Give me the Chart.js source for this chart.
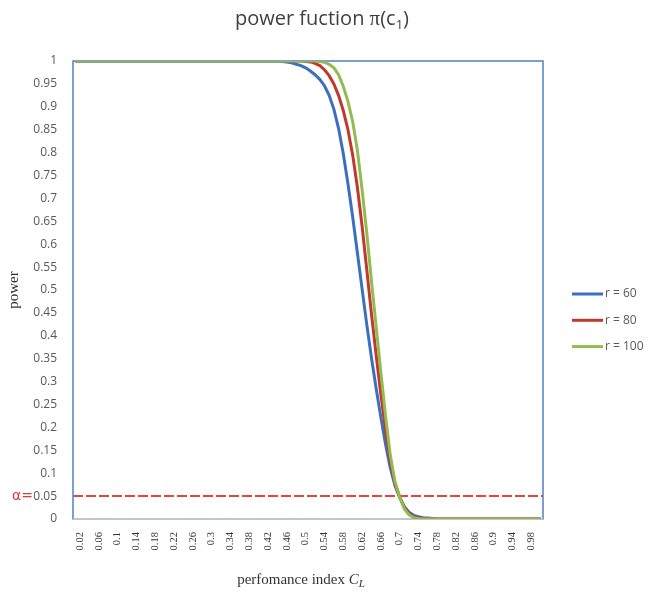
<!DOCTYPE html>
<html>
<head>
<meta charset="utf-8">
<script src="https://cdn.jsdelivr.net/npm/chart.js@4.4.0/dist/chart.umd.min.js"></script>
<style>
  html, body { margin: 0; padding: 0; background: #fff; }
</style>
</head>
<body>
<canvas id="powerChart" width="648" height="592"></canvas>
<script>
// performance index C_L (category axis)
const indexValues = [
  0.01, 0.02, 0.03, 0.04, 0.05, 0.06, 0.07, 0.08, 0.09, 0.1,
  0.11, 0.12, 0.13, 0.14, 0.15, 0.16, 0.17, 0.18, 0.19, 0.2,
  0.21, 0.22, 0.23, 0.24, 0.25, 0.26, 0.27, 0.28, 0.29, 0.3,
  0.31, 0.32, 0.33, 0.34, 0.35, 0.36, 0.37, 0.38, 0.39, 0.4,
  0.41, 0.42, 0.43, 0.44, 0.45, 0.46, 0.47, 0.48, 0.49, 0.5,
  0.51, 0.52, 0.53, 0.54, 0.55, 0.56, 0.57, 0.58, 0.59, 0.6,
  0.61, 0.62, 0.63, 0.64, 0.65, 0.66, 0.67, 0.68, 0.69, 0.7,
  0.71, 0.72, 0.73, 0.74, 0.75, 0.76, 0.77, 0.78, 0.79, 0.8,
  0.81, 0.82, 0.83, 0.84, 0.85, 0.86, 0.87, 0.88, 0.89, 0.9,
  0.91, 0.92, 0.93, 0.94, 0.95, 0.96, 0.97, 0.98, 0.99, 1
];

// power for r = 60
const powerR60 = [
  1, 1, 1, 1, 1, 1, 1, 1, 1, 1,
  1, 1, 1, 1, 1, 1, 1, 1, 1, 1,
  1, 1, 1, 1, 1, 1, 1, 1, 1, 1,
  1, 1, 1, 1, 1, 1, 1, 1, 1, 1,
  1, 1, 1, 1, 0.999, 0.998, 0.996, 0.993, 0.99, 0.985,
  0.978, 0.97, 0.96, 0.946, 0.925, 0.895, 0.853, 0.798, 0.732, 0.66,
  0.582, 0.503, 0.425, 0.352, 0.285, 0.222, 0.163, 0.112, 0.073, 0.047,
  0.027, 0.015, 0.008, 0.005, 0.003, 0.002, 0.001, 0, 0, 0,
  0, 0, 0, 0, 0, 0, 0, 0, 0, 0,
  0, 0, 0, 0, 0, 0, 0, 0, 0, 0
];

// power for r = 80
const powerR80 = [
  1, 1, 1, 1, 1, 1, 1, 1, 1, 1,
  1, 1, 1, 1, 1, 1, 1, 1, 1, 1,
  1, 1, 1, 1, 1, 1, 1, 1, 1, 1,
  1, 1, 1, 1, 1, 1, 1, 1, 1, 1,
  1, 1, 1, 1, 1, 1, 1, 1, 1, 0.999,
  0.998, 0.995, 0.99, 0.981, 0.968, 0.95, 0.925, 0.892, 0.85, 0.795,
  0.725, 0.64, 0.545, 0.448, 0.358, 0.272, 0.193, 0.126, 0.078, 0.048,
  0.025, 0.011, 0.005, 0.002, 0.001, 0, 0, 0, 0, 0,
  0, 0, 0, 0, 0, 0, 0, 0, 0, 0,
  0, 0, 0, 0, 0, 0, 0, 0, 0, 0
];

// power for r = 100
const powerR100 = [
  1, 1, 1, 1, 1, 1, 1, 1, 1, 1,
  1, 1, 1, 1, 1, 1, 1, 1, 1, 1,
  1, 1, 1, 1, 1, 1, 1, 1, 1, 1,
  1, 1, 1, 1, 1, 1, 1, 1, 1, 1,
  1, 1, 1, 1, 1, 1, 1, 1, 1, 1,
  1, 1, 0.999, 0.997, 0.993, 0.985, 0.97, 0.945, 0.912, 0.868,
  0.806, 0.72, 0.625, 0.52, 0.42, 0.32, 0.225, 0.14, 0.082, 0.048,
  0.022, 0.009, 0.003, 0.001, 0, 0, 0, 0, 0, 0,
  0, 0, 0, 0, 0, 0, 0, 0, 0, 0,
  0, 0, 0, 0, 0, 0, 0, 0, 0, 0
];

const seriesNames = ['r = 60', 'r = 80', 'r = 100'];
const seriesColors = ['#3d6fc1', '#c0392f', '#92bc4f'];
const alpha = 0.05;

const decorations = {
  id: 'decorations',
  beforeDatasetsDraw(chart) {
    const { ctx, chartArea: a, scales: { y } } = chart;
    ctx.save();
    ctx.strokeStyle = '#4f80c1';
    ctx.lineWidth = 1.5;
    ctx.strokeRect(a.left, a.top, a.width, a.height);
    ctx.strokeStyle = '#d4d4d4';
    ctx.beginPath();
    ctx.moveTo(a.left, a.bottom);
    ctx.lineTo(a.right, a.bottom);
    ctx.stroke();
    // alpha level
    const ya = y.getPixelForValue(alpha);
    ctx.strokeStyle = '#e6443e';
    ctx.lineWidth = 2;
    ctx.setLineDash([10, 3]);
    ctx.beginPath();
    ctx.moveTo(a.left, ya);
    ctx.lineTo(a.right, ya);
    ctx.stroke();
    ctx.restore();
  },
  afterDraw(chart) {
    const { ctx, chartArea: a, scales: { y } } = chart;
    ctx.save();

    // chart title: power fuction π(c1), with subscript 1
    const tParts = [
      { t: 'power fuction ', f: '20px "Open Sans"', dy: 0 },
      { t: 'π', f: '21px "Liberation Serif"', dy: 0 },
      { t: '(c', f: '20px "Open Sans"', dy: 0 },
      { t: '1', f: '13px "Open Sans"', dy: 4 },
      { t: ')', f: '20px "Open Sans"', dy: 0 }
    ];
    let tw = 0;
    tParts.forEach(p => { ctx.font = p.f; p.w = ctx.measureText(p.t).width; tw += p.w; });
    let tx = 322 - tw / 2;
    ctx.fillStyle = '#3f3f3f';
    ctx.textAlign = 'left';
    ctx.textBaseline = 'alphabetic';
    tParts.forEach(p => { ctx.font = p.f; ctx.fillText(p.t, tx, 25 + p.dy); tx += p.w; });

    // "α=" in front of the 0.05 tick
    ctx.font = '14px "DejaVu Sans"';
    ctx.fillStyle = '#e03a34';
    ctx.textAlign = 'right';
    ctx.textBaseline = 'middle';
    ctx.fillText('α=', 33, y.getPixelForValue(alpha));

    // x axis title with italic C_L
    const main = 'perfomance index ';
    ctx.textAlign = 'left';
    ctx.textBaseline = 'alphabetic';
    ctx.fillStyle = '#333';
    ctx.font = '15px "Liberation Serif"';
    const w1 = ctx.measureText(main).width;
    ctx.font = 'italic 15px "Liberation Serif"';
    const w2 = ctx.measureText('C').width;
    ctx.font = 'italic 11px "Liberation Serif"';
    const w3 = ctx.measureText('L').width;
    let x = (a.left + a.right) / 2 - 7 - (w1 + w2 + w3) / 2;
    const base = 584;
    ctx.font = '15px "Liberation Serif"';
    ctx.fillText(main, x, base);
    x += w1;
    ctx.font = 'italic 15px "Liberation Serif"';
    ctx.fillText('C', x, base);
    x += w2;
    ctx.font = 'italic 11px "Liberation Serif"';
    ctx.fillText('L', x, base + 3);

    // legend
    ctx.font = '12px "Open Sans"';
    ctx.textBaseline = 'middle';
    ctx.fillStyle = '#595959';
    ctx.lineWidth = 3;
    chart.data.datasets.forEach((ds, i) => {
      const ly = 294 + i * 26.3;
      ctx.strokeStyle = ds.borderColor;
      ctx.beginPath();
      ctx.moveTo(572, ly);
      ctx.lineTo(603, ly);
      ctx.stroke();
      ctx.fillText(ds.label, 605, ly);
    });
    ctx.restore();
  }
};

const powerSeries = [powerR60, powerR80, powerR100];

new Chart(document.getElementById('powerChart'), {
  type: 'line',
  data: {
    labels: indexValues,
    datasets: powerSeries.map((vals, i) => ({
      label: seriesNames[i],
      data: vals,
      borderColor: seriesColors[i],
      backgroundColor: seriesColors[i],
      borderWidth: 3,
      pointRadius: 0,
      fill: false,
      tension: 0,
      order: 2 - i
    }))
  },
  options: {
    responsive: false,
    animation: false,
    devicePixelRatio: 1,
    layout: { padding: { left: 0, right: 105, top: 61, bottom: 0 } },
    plugins: {
      legend: { display: false },
      tooltip: { enabled: false },
      title: { display: false }
    },
    scales: {
      x: {
        type: 'category',
        offset: true,
        grid: { display: false, drawTicks: false },
        border: { display: false },
        ticks: {
          autoSkip: false,
          minRotation: 90,
          maxRotation: 90,
          padding: 13,
          color: '#333',
          font: { family: '"Liberation Serif"', size: 10.5 },
          callback: function (v, i) {
            return (i - 1) % 4 === 0 ? String(this.getLabelForValue(v)) : '';
          }
        },
        afterFit: (scale) => { scale.height = 73; }
      },
      y: {
        min: 0,
        max: 1,
        grid: { display: false, drawTicks: false },
        border: { display: false },
        title: {
          display: true,
          text: 'power',
          color: '#333',
          font: { family: '"Liberation Serif"', size: 15 },
          padding: { top: 5, bottom: 0 }
        },
        ticks: {
          stepSize: 0.05,
          autoSkip: false,
          padding: 16,
          color: '#595959',
          font: { family: '"Open Sans"', size: 12 },
          callback: (v) => String(Number(v.toFixed(2)))
        },
        afterFit: (scale) => { scale.width = 73; }
      }
    }
  },
  plugins: [decorations]
});
</script>
</body>
</html>
